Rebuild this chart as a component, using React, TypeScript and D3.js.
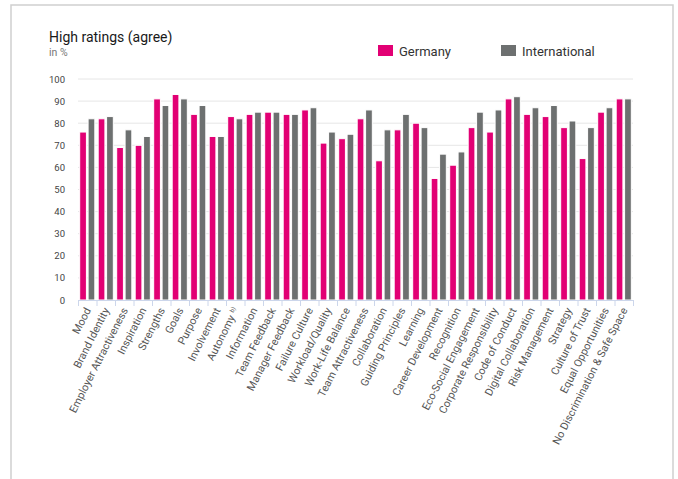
import React, { useEffect, useRef } from "react";
import * as d3 from "d3";

const categories = [
  "Mood", "Brand Identity", "Employer Attractiveness", "Inspiration", "Strengths",
  "Goals", "Purpose", "Involvement", "Autonomy", "Information",
  "Team Feedback", "Manager Feedback", "Failure Culture", "Workload/Quality", "Work-Life Balance",
  "Team Attractiveness", "Collaboration", "Guiding Principles", "Learning", "Career Development",
  "Recognition", "Eco-Social Engagement", "Corporate Responsibility", "Code of Conduct", "Digital Collaboration",
  "Risk Management", "Strategy", "Culture of Trust", "Equal Opportunities", "No Discrimination & Safe Space",
];
const germany = [76, 82, 69, 70, 91, 93, 84, 74, 83, 84, 85, 84, 86, 71, 73, 82, 63, 77, 80, 55, 61, 78, 76, 91, 84, 83, 78, 64, 85, 91];
const international = [82, 83, 77, 74, 88, 91, 88, 74, 82, 85, 85, 84, 87, 76, 75, 86, 77, 84, 78, 66, 67, 85, 86, 92, 87, 88, 81, 78, 87, 91];
const seriesNames = ["Germany", "International"];
const seriesColors = ["#e20074", "#6d7070"];
const yTicks = [0, 10, 20, 30, 40, 50, 60, 70, 80, 90, 100];
const superscripts: Record<string, string> = { Autonomy: "b)" };

const W = 678, H = 479;
const left = 78, right = 633, top = 79, bottom = 300;
const FONT = "Roboto, 'Liberation Sans', sans-serif";

export default function App() {
  const ref = useRef<SVGSVGElement>(null);
  useEffect(() => {
    const svg = d3.select(ref.current);
    svg.selectAll("*").remove();

    svg.append("rect").attr("x", 11).attr("y", 5).attr("width", 662).attr("height", 500)
      .attr("fill", "#fff").attr("stroke", "#cfcfcf").attr("stroke-width", 1.5);

    const x = d3.scaleBand().domain(categories).range([left, right]).paddingInner(0).paddingOuter(0);
    const y = d3.scaleLinear().domain([0, 100]).range([bottom, top]);
    const inner = d3.scaleBand().domain(seriesNames).range([0, x.bandwidth()]).paddingInner(0.2).paddingOuter(0.2);

    // grid
    svg.append("g").selectAll("line").data(yTicks.filter(t => t > 0)).join("line")
      .attr("x1", left).attr("x2", right).attr("y1", d => y(d)).attr("y2", d => y(d))
      .attr("stroke", "#e6e6e6").attr("stroke-width", 1);

    // y labels
    svg.append("g").selectAll("text").data(yTicks).join("text")
      .attr("x", 65).attr("y", d => y(d) + 3.5).attr("text-anchor", "end")
      .attr("font-family", FONT).attr("font-size", 9.5).attr("fill", "#444").text(d => d);

    // bars
    const data = [germany, international];
    data.forEach((vals, si) => {
      svg.append("g").selectAll("rect").data(vals).join("rect")
        .attr("x", (d, i) => (x(categories[i]) as number) + (inner(seriesNames[si]) as number))
        .attr("y", d => y(d))
        .attr("width", inner.bandwidth())
        .attr("height", d => bottom - y(d))
        .attr("fill", seriesColors[si])
        .attr("stroke", "#fff").attr("stroke-width", 1);
    });

    // x axis line and ticks
    svg.append("line").attr("x1", left).attr("x2", right).attr("y1", bottom + 0.5).attr("y2", bottom + 0.5)
      .attr("stroke", "#ccd6eb").attr("stroke-width", 1);
    const bounds = categories.map(c => x(c) as number).concat([right]);
    svg.append("g").selectAll("line").data(bounds).join("line")
      .attr("x1", d => d + 0.5).attr("x2", d => d + 0.5).attr("y1", bottom).attr("y2", bottom + 6)
      .attr("stroke", "#ccd6eb").attr("stroke-width", 1);

    // x labels
    const lab = svg.append("g").selectAll("text").data(categories).join("text")
      .attr("transform", d => `translate(${(x(d) as number) + x.bandwidth() / 2 + 4},${bottom + 10}) rotate(-63)`)
      .attr("text-anchor", "end")
      .attr("font-family", FONT).attr("font-size", 10.8).attr("fill", "#555");
    lab.each(function (d) {
      const t = d3.select(this);
      t.append("tspan").text(d);
      if (superscripts[d]) {
        t.append("tspan").attr("font-size", 6).attr("dx", 3).attr("dy", -4).text(superscripts[d]);
      }
    });

    // title
    svg.append("text").attr("x", 49).attr("y", 42).attr("font-family", FONT).attr("font-size", 14)
      .attr("fill", "#191919").text("High ratings (agree)");
    svg.append("text").attr("x", 49).attr("y", 56).attr("font-family", FONT).attr("font-size", 10.5)
      .attr("fill", "#777").text("in %");

    // legend
    const legX = [378, 501];
    seriesNames.forEach((n, i) => {
      svg.append("rect").attr("x", legX[i]).attr("y", 45).attr("width", 15).attr("height", 11)
        .attr("fill", seriesColors[i]);
      svg.append("text").attr("x", legX[i] + 21).attr("y", 55.5).attr("font-family", FONT)
        .attr("font-size", 13).attr("fill", "#333").text(n);
    });
  }, []);
  return <svg ref={ref} width={W} height={H} style={{ position: "absolute", left: 0, top: 0 }} />;
}
